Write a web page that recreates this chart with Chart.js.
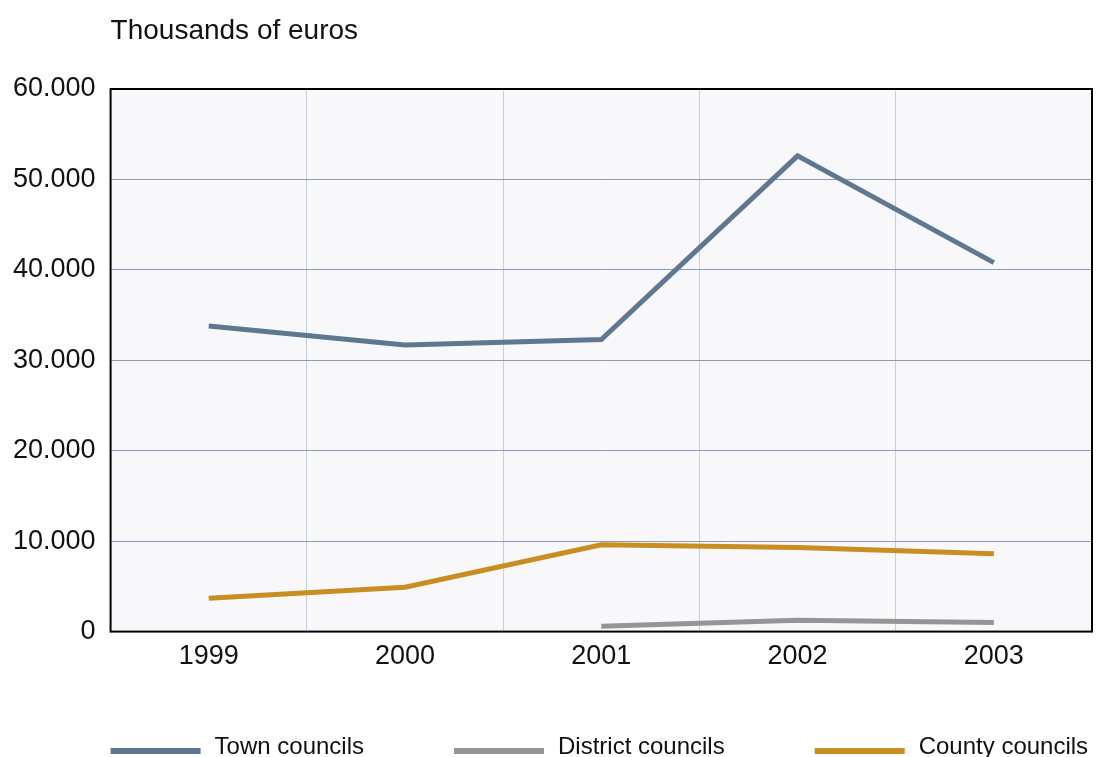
<!DOCTYPE html>
<html>
<head>
<meta charset="utf-8">
<script src="https://cdn.jsdelivr.net/npm/chart.js@4"></script>
<style>
  html, body { margin: 0; padding: 0; background: #fff; }
  .wrap { width: 1097px; height: 757px; }
</style>
</head>
<body>
<div class="wrap"><canvas class="line-chart-councils"></canvas></div>
<script>
const years = ['1999', '2000', '2001', '2002', '2003'];

const townCouncils = [33800, 31700, 32300, 52600, 40800];
const districtCouncils = [null, null, 600, 1250, 1000];
const countyCouncils = [3700, 4900, 9600, 9300, 8600];

const yTicks = [0, 10000, 20000, 30000, 40000, 50000, 60000];

const fontFamily = '"Liberation Sans", Arial, Helvetica, sans-serif';

// euro style thousands: 60000 -> 60.000
function fmt(v) {
  if (v === 0) return '0';
  return String(v).replace(/\B(?=(\d{3})+(?!\d))/g, '.');
}

const plotFrame = {
  id: 'plotFrame',
  beforeDraw(chart) {
    const a = chart.chartArea;
    const ctx = chart.ctx;
    ctx.save();
    ctx.fillStyle = '#f8f8fb';
    ctx.fillRect(a.left, a.top, a.right - a.left, a.bottom - a.top);
    ctx.restore();
  },
  afterDraw(chart) {
    const a = chart.chartArea;
    const ctx = chart.ctx;
    ctx.save();
    ctx.strokeStyle = '#000';
    ctx.lineWidth = 2;
    ctx.strokeRect(a.left, a.top, a.right - a.left, a.bottom - a.top);

    // unit label above the plot
    ctx.fillStyle = '#111';
    ctx.font = '28px ' + fontFamily;
    ctx.textBaseline = 'alphabetic';
    ctx.textAlign = 'left';
    ctx.fillText('Thousands of euros', a.left, 39);

    // legend with long line swatches
    ctx.font = '24px ' + fontFamily;
    let x = a.left;
    chart.data.datasets.forEach(ds => {
      ctx.fillStyle = ds.borderColor;
      ctx.fillRect(x, 748, 90, 6);
      ctx.fillStyle = '#111';
      ctx.fillText(ds.label, x + 104, 754);
      x += 104 + ctx.measureText(ds.label).width + 90;
    });
    ctx.restore();
  }
};

const data = {
  labels: years,
  datasets: [
    {
      label: 'Town councils',
      data: townCouncils,
      borderColor: '#5f7892',
      backgroundColor: '#5f7892',
    },
    {
      label: 'District councils',
      data: districtCouncils,
      borderColor: '#959595',
      backgroundColor: '#959595',
    },
    {
      label: 'County councils',
      data: countyCouncils,
      borderColor: '#c98e22',
      backgroundColor: '#c98e22',
    },
  ]
};

const config = {
  type: 'line',
  data: data,
  options: {
    responsive: true,
    maintainAspectRatio: false,
    animation: false,
    layout: {
      padding: { top: 89, left: -2, right: 5, bottom: 75 }
    },
    elements: {
      line: { borderWidth: 5, tension: 0, borderCapStyle: 'butt', fill: false },
      point: { radius: 0, hoverRadius: 0 }
    },
    plugins: {
      legend: { display: false },
      title: { display: false },
      tooltip: { enabled: false }
    },
    scales: {
      x: {
        offset: true,
        border: { display: false },
        grid: { offset: true, color: '#c5d0df', lineWidth: 1, drawTicks: false },
        ticks: {
          color: '#111',
          padding: 9,
          font: { family: fontFamily, size: 27 }
        }
      },
      y: {
        min: 0,
        max: 60000,
        afterBuildTicks(scale) {
          scale.ticks = yTicks.map(v => ({ value: v }));
        },
        border: { display: false },
        grid: { color: '#8a9bb2', lineWidth: 1, drawTicks: false },
        ticks: {
          color: '#111',
          padding: 15,
          font: { family: fontFamily, size: 27 },
          callback: v => fmt(v)
        }
      }
    }
  },
  plugins: [plotFrame]
};

const graphCouncils = new Chart(
  document.getElementsByClassName('line-chart-councils'),
  config
);
</script>
</body>
</html>
